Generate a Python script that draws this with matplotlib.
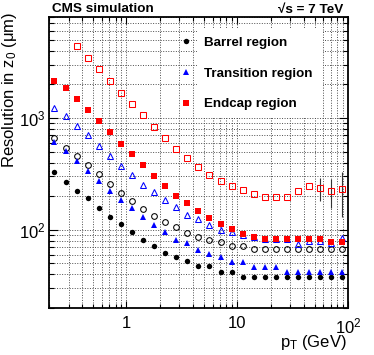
import matplotlib
matplotlib.use('Agg')
import matplotlib.pyplot as plt
import numpy as np
from matplotlib.ticker import FixedLocator, FixedFormatter, NullFormatter, LogLocator
from matplotlib.lines import Line2D
from matplotlib.patches import Rectangle

plt.rcParams['font.family'] = ['Liberation Sans', 'DejaVu Sans']
plt.rcParams['mathtext.fontset'] = 'custom'
plt.rcParams['mathtext.rm'] = 'Liberation Sans'
plt.rcParams['mathtext.it'] = 'Liberation Sans'
plt.rcParams['mathtext.bf'] = 'Liberation Sans:bold'

# ---------------- data ----------------
pt = [0.224, 0.282, 0.355, 0.447, 0.562, 0.708, 0.891, 1.12, 1.41, 1.78,
      2.24, 2.82, 3.55, 4.47, 5.62, 7.08, 8.91, 11.2, 14.1, 17.8,
      22.4, 28.2, 35.5, 44.7, 56.2, 70.8, 89.1]

barrel_68 = [330, 270, 224, 192, 156, 131.5, 112.5, 96.6, 81.9, 71.9,
             61.9, 57.0, 52.3, 47.2, 47.2, 42.4, 42.4, 37.5, 37.5, 37.5,
             37.5, 37.5, 37.5, 37.5, 37.5, 37.5, 37.5]
barrel_90 = [659, 543, 460, 383, 316, 257, 213, 182, 153, 132,
             117, 105, 93, 86.6, 81.9, 77.1, 71.9, 71.5, 67.4, 67.4,
             67.4, 67.4, 67.4, 67.4, 67.4, 67.4, 67.4]
trans_68 = [614, 507, 409, 338, 274, 224, 184, 156, 130, 111,
            95.3, 81.4, 76.1, 66.3, 61.1, 56.6, 51.8, 51.8, 47.0, 47.0,
            47.0, 41.6, 41.6, 41.6, 41.6, 41.6, 41.6]
trans_90 = [1236, 1035, 852, 701, 566, 458, 375, 308, 253, 217,
            186.5, 161.5, 135, 126, 111.5, 100, 95.3, 90, 86, 82,
            82, 82, 74.5, 80, 80, 77, 85.3]
endcap_68 = [2153, 1841, 1479, 1172, 934, 742, 588, 472, 378, 305,
             247, 202, 172.5, 148, 127.4, 112.7, 102, 91.7, 87.1, 82.6,
             82.6, 82.6, 82.6, 82.6, 82.6, 77.6, 77.6]
endcap_90 = [np.nan, np.nan, 4365, 3412, 2738, 2153, 1690, 1325, 1053, 836,
             663, 529, 439, 365, 311, 271, 247, 225, 207, 196,
             196, 196, 221, 247, 236, 222, 231]
endcap_90_err = [0, 0, 0, 0, 0, 0, 0, 0, 0, 0,
                 0, 0, 0, 0, 0, 0, 0, 0, 0, 0,
                 0, 0, 0, 0, 56, 65, 100]

legend_labels = ['Barrel region', 'Transition region', 'Endcap region']
x_ticks = [1, 10, 100]
x_ticklabels = ['1', '10', '$10^{2}$']
y_ticks = [100, 1000]
y_ticklabels = ['$10^{2}$', '$10^{3}$']

# ---------------- figure ----------------
fig = plt.figure(figsize=(3.74, 3.55), dpi=100)
ax = fig.add_axes([49/374, 47/355, 299/374, 291/355])
ax.set_xscale('log')
ax.set_yscale('log')
ax.set_xlim(0.2, 100)
ax.set_ylim(20, 8000)
ax.set_axisbelow(True)

BLACK, BLUE, RED = 'black', '#0000ff', '#ff0000'
mew = 0.75

# open (90%) first, then filled (68%)
ax.plot(pt, barrel_90, ls='none', marker='o', ms=4.1, mfc='none', mec=BLACK, mew=mew, zorder=3)
ax.plot(pt, trans_90, ls='none', marker='^', ms=4.6, mfc='none', mec=BLUE, mew=mew, zorder=3)
ax.errorbar(pt, endcap_90, yerr=endcap_90_err, fmt='none', ecolor='0.2', elinewidth=0.8, capsize=0, zorder=3)
ax.plot(pt, endcap_90, ls='none', marker='s', ms=4.2, mfc='none', mec=RED, mew=mew, zorder=3)
ax.plot(pt, barrel_68, ls='none', marker='o', ms=3.9, mfc=BLACK, mec=BLACK, mew=0, zorder=4)
ax.plot(pt, trans_68, ls='none', marker='^', ms=4.6, mfc=BLUE, mec=BLUE, mew=0, zorder=4)
ax.plot(pt, endcap_68, ls='none', marker='s', ms=4.1, mfc=RED, mec=RED, mew=0, zorder=4)

# ticks
ax.xaxis.set_major_locator(FixedLocator(x_ticks))
ax.xaxis.set_major_formatter(FixedFormatter(x_ticklabels))
ax.xaxis.set_minor_locator(LogLocator(base=10, subs=np.arange(2, 10)))
ax.xaxis.set_minor_formatter(NullFormatter())
ax.yaxis.set_major_locator(FixedLocator(y_ticks))
ax.yaxis.set_major_formatter(FixedFormatter(y_ticklabels))
ax.yaxis.set_minor_locator(LogLocator(base=10, subs=np.arange(2, 10)))
ax.yaxis.set_minor_formatter(NullFormatter())

ax.tick_params(which='both', direction='in', top=True, right=True, width=0.8, labelsize=12)
ax.tick_params(axis='x', which='major', length=5, pad=6.0)
ax.tick_params(axis='x', which='minor', length=3)
ax.tick_params(axis='y', which='major', length=6.5, pad=2.5)
ax.tick_params(axis='y', which='minor', length=3.5)

ax.grid(True, which='both', linestyle=(0, (1, 1.6)), color='0.3', linewidth=0.7)
for s in ax.spines.values():
    s.set_linewidth(1.3)

# legend background (covers grid)
ax.add_patch(Rectangle((0.495, 0.653), 0.421, 0.309, transform=ax.transAxes,
                       facecolor='white', edgecolor='none', zorder=1))
handles = [Line2D([], [], ls='none', marker='o', ms=3.9, mfc=BLACK, mec=BLACK, mew=0),
           Line2D([], [], ls='none', marker='^', ms=4.6, mfc=BLUE, mec=BLUE, mew=0),
           Line2D([], [], ls='none', marker='s', ms=4.1, mfc=RED, mec=RED, mew=0)]
leg = ax.legend(handles, legend_labels, loc='upper left', bbox_to_anchor=(0.436, 0.932),
                frameon=False, prop=dict(weight='bold', size=9.6), handlelength=1.0,
                handletextpad=0.85, labelspacing=1.37, borderaxespad=0, borderpad=0)
leg.set_zorder(5)

# labels
ax.set_ylabel('Resolution in $z_{0}$ (μm)', fontsize=12, loc='top')
ax.yaxis.set_label_coords(-0.100, 1.017)
ax.set_xlabel('$p_{T}$ (GeV)', fontsize=12, loc='right')
ax.xaxis.set_label_coords(0.997, -0.085)

fig.text(52/374, 1 - 11.7/355, 'CMS simulation', fontsize=9.7, fontweight='bold',
         ha='left', va='baseline')
fig.text(343/374, 1 - 12.7/355, '√s = 7 TeV', fontsize=9.7, fontweight='bold',
         ha='right', va='baseline')

fig.savefig('out.png', dpi=100)
